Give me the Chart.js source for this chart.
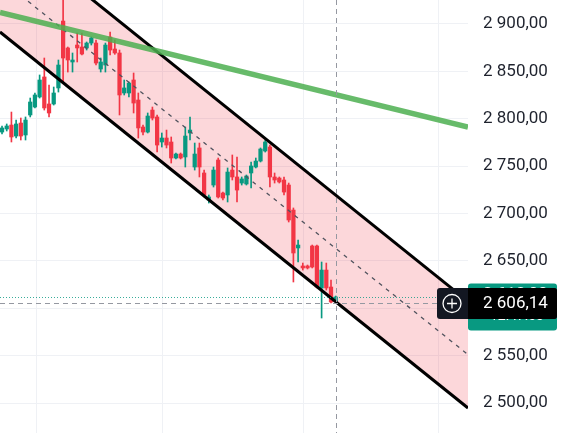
<!DOCTYPE html>
<html>
<head>
<meta charset="utf-8">
<script src="https://cdn.jsdelivr.net/npm/chart.js@4.4.0/dist/chart.umd.min.js"></script>
<style>
  html, body { margin: 0; padding: 0; background: #ffffff; }
  #wrap { width: 562px; height: 433px; }
</style>
</head>
<body>
<div id="wrap"><canvas id="c" width="562" height="433"></canvas></div>
<script>
// ---- data ----
const opens = [2786.0, 2789.2, 2793.4, 2781.8, 2795.5, 2782.9, 2804.0, 2812.4, 2823.0, 2844.1,
  2815.6, 2815.6, 2832.5, 2903.1, 2874.7, 2859.9, 2877.8, 2875.7, 2874.7, 2879.9,
  2879.9, 2852.5, 2856.7, 2886.3, 2873.6, 2869.4, 2827.2, 2827.2, 2840.9, 2819.8,
  2791.3, 2786.0, 2809.2, 2801.9, 2775.5, 2779.7, 2775.5, 2758.6, 2762.8, 2759.7,
  2785.0, 2749.1, 2769.2, 2742.8, 2714.3, 2730.1, 2756.5, 2721.7, 2719.6, 2745.9,
  2738.6, 2732.2, 2731.2, 2742.8, 2749.1, 2755.4, 2766.0, 2770.2, 2738.6, 2737.5,
  2735.4, 2730.1, 2703.7, 2663.7, 2644.7, 2644.7, 2665.8, 2665.8, 2621.5, 2640.4,
  2622.5, 2608.0];
const highs = [2792.4, 2794.5, 2807.1, 2798.7, 2800.8, 2801.9, 2821.9, 2827.2, 2846.2, 2864.1,
  2835.6, 2833.5, 2862.0, 2928.0, 2875.7, 2869.4, 2890.5, 2890.5, 2881.0, 2886.3,
  2883.1, 2864.1, 2879.9, 2891.5, 2883.1, 2872.5, 2840.9, 2838.8, 2848.3, 2827.2,
  2793.4, 2806.1, 2812.4, 2804.0, 2785.0, 2788.1, 2780.8, 2763.9, 2763.9, 2791.3,
  2801.9, 2774.4, 2774.4, 2745.9, 2719.6, 2749.1, 2758.6, 2722.7, 2748.1, 2761.8,
  2759.7, 2738.6, 2740.7, 2754.4, 2758.6, 2769.2, 2777.6, 2772.3, 2742.8, 2738.6,
  2738.6, 2732.2, 2705.9, 2672.1, 2647.8, 2645.7, 2666.8, 2666.8, 2648.9, 2647.8,
  2629.9, 2613.0];
const lows = [2783.9, 2787.1, 2775.5, 2779.7, 2777.6, 2777.6, 2801.9, 2811.4, 2821.9, 2809.2,
  2801.9, 2814.5, 2828.2, 2838.8, 2849.3, 2849.3, 2859.9, 2867.3, 2872.5, 2877.8,
  2856.7, 2849.3, 2849.3, 2867.3, 2868.0, 2804.0, 2825.1, 2823.0, 2806.1, 2779.7,
  2782.9, 2785.0, 2798.7, 2764.9, 2770.2, 2769.2, 2753.3, 2757.6, 2757.6, 2749.1,
  2777.6, 2745.9, 2738.6, 2717.5, 2711.1, 2728.0, 2716.4, 2714.3, 2712.2, 2735.4,
  2712.2, 2730.1, 2730.1, 2727.0, 2748.1, 2754.4, 2764.9, 2728.0, 2732.2, 2732.2,
  2719.6, 2691.1, 2627.8, 2648.9, 2640.4, 2641.5, 2642.6, 2621.5, 2589.8, 2619.3,
  2605.6, 2607.0];
const closes = [2790.3, 2792.4, 2780.8, 2794.5, 2781.8, 2798.7, 2817.7, 2825.1, 2840.9, 2811.4,
  2806.1, 2827.2, 2856.7, 2864.1, 2862.0, 2862.0, 2874.7, 2868.3, 2879.9, 2885.2,
  2858.8, 2859.9, 2877.8, 2872.5, 2869.4, 2825.1, 2832.5, 2837.7, 2816.6, 2790.3,
  2786.0, 2802.9, 2800.8, 2772.3, 2779.7, 2772.3, 2758.6, 2762.8, 2758.6, 2781.8,
  2788.1, 2762.8, 2749.1, 2719.6, 2717.5, 2745.9, 2717.5, 2716.4, 2743.8, 2738.6,
  2724.8, 2736.5, 2739.6, 2750.2, 2755.4, 2768.1, 2775.5, 2738.6, 2735.4, 2733.3,
  2722.7, 2693.2, 2658.4, 2666.8, 2642.6, 2642.6, 2643.6, 2622.5, 2640.4, 2621.5,
  2606.7, 2612.0];

// drawings (bar index -> price)
const lineX = [-0.43, 99.15];
const channelUpper = [3003.9, 2607.4];
const channelLower = [2891.5, 2494.9];
const channelMid = [2947.7, 2551.2];
const trendLine = [2912.1, 2791.3];

const yTickValues = [2500, 2550, 2600, 2650, 2700, 2750, 2800, 2850, 2900];
const xGridValues = [7.2, 34, 64, 92.8];
const crosshairBar = 71;
const crosshairPrice = 2606.14;
const countdownText = '12:47:03';

// ---- helpers ----
function fmt(v) {
  const s = v.toFixed(2).split('.');
  return s[0].replace(/\B(?=(\d{3})+(?!\d))/g, ' ') + ',' + s[1];
}
const UP = '#089981', DOWN = '#F23645';
const candleColors = closes.map((c, i) => c >= opens[i] ? UP : DOWN);
const bodies = closes.map((c, i) => ({ x: i, y: [opens[i], c] }));
const wicks = closes.map((c, i) => ({ x: i, y: [lows[i], highs[i]] }));
const pts = arr => arr.map((v, i) => ({ x: lineX[i], y: v }));

function roundRect(ctx, x, y, w, h, r) {
  ctx.beginPath();
  ctx.moveTo(x + r, y);
  ctx.lineTo(x + w - r, y); ctx.quadraticCurveTo(x + w, y, x + w, y + r);
  ctx.lineTo(x + w, y + h - r); ctx.quadraticCurveTo(x + w, y + h, x + w - r, y + h);
  ctx.lineTo(x + r, y + h); ctx.quadraticCurveTo(x, y + h, x, y + h - r);
  ctx.lineTo(x, y + r); ctx.quadraticCurveTo(x, y, x + r, y);
  ctx.closePath();
}

const overlay = {
  id: 'overlay',
  beforeDraw(chart) {
    const { ctx, chartArea: a, scales: { x } } = chart;
    ctx.save();
    ctx.strokeStyle = '#eff1f5';
    ctx.lineWidth = 1;
    xGridValues.forEach(v => {
      const px = Math.round(x.getPixelForValue(v)) + 0.5;
      ctx.beginPath(); ctx.moveTo(px, a.top); ctx.lineTo(px, a.bottom); ctx.stroke();
    });
    ctx.restore();
  },
  afterDraw(chart) {
    const { ctx, chartArea: a, scales: { x, y } } = chart;
    const W = chart.width;
    ctx.save();
    // last price dotted line
    const lastY = Math.round(y.getPixelForValue(closes[closes.length - 1])) + 0.5;
    ctx.strokeStyle = 'rgba(8,153,129,0.8)';
    ctx.lineWidth = 1;
    ctx.setLineDash([1, 2]);
    ctx.beginPath(); ctx.moveTo(a.left, lastY); ctx.lineTo(a.right, lastY); ctx.stroke();
    // crosshair
    const cx = Math.round(x.getPixelForValue(crosshairBar)) + 0.5;
    const cy = Math.round(y.getPixelForValue(crosshairPrice)) + 0.5;
    ctx.strokeStyle = '#9598a1';
    ctx.setLineDash([5, 4]);
    ctx.beginPath(); ctx.moveTo(cx, a.top); ctx.lineTo(cx, a.bottom); ctx.stroke();
    ctx.beginPath(); ctx.moveTo(a.left, cy); ctx.lineTo(a.right, cy); ctx.stroke();
    ctx.setLineDash([]);

    // last price label (green)
    const gx = a.right, gw = W - 5 - a.right;
    roundRect(ctx, gx, lastY - 14, gw, 47, 3);
    ctx.fillStyle = UP; ctx.fill();
    ctx.fillStyle = '#ffffff';
    ctx.textBaseline = 'middle'; ctx.textAlign = 'left';
    ctx.font = '17px Roboto, "Noto Sans", sans-serif';
    ctx.fillText(fmt(closes[closes.length - 1]), a.right + 15, lastY - 3);
    ctx.font = '14px Roboto, "Noto Sans", sans-serif';
    ctx.fillText(countdownText, a.right + 22, lastY + 19);

    // crosshair label (black)
    const bx = a.right - 31, bh = 31;
    roundRect(ctx, bx, cy - bh / 2, W - 5 - bx, bh, 3);
    ctx.fillStyle = '#131722'; ctx.fill();
    ctx.fillStyle = '#000000';
    roundRect(ctx, a.right, cy - bh / 2, W - 5 - a.right, bh, 3);
    ctx.fill();
    ctx.fillRect(a.right, cy - bh / 2, 6, bh);
    // plus icon
    ctx.strokeStyle = '#ffffff'; ctx.lineWidth = 1.3;
    const px = a.right - 16;
    ctx.beginPath(); ctx.arc(px, cy, 9, 0, Math.PI * 2); ctx.stroke();
    ctx.beginPath();
    ctx.moveTo(px - 5, cy); ctx.lineTo(px + 5, cy);
    ctx.moveTo(px, cy - 5); ctx.lineTo(px, cy + 5);
    ctx.stroke();
    ctx.fillStyle = '#ffffff';
    ctx.font = '17px Roboto, "Noto Sans", sans-serif';
    ctx.fillText(fmt(crosshairPrice), a.right + 15, cy + 0.5);
    ctx.restore();
  }
};

new Chart(document.getElementById('c'), {
  type: 'bar',
  data: {
    datasets: [
      { type: 'line', data: pts(trendLine), borderColor: 'rgba(76,175,80,0.85)', borderWidth: 5.5,
        pointRadius: 0, order: 0, fill: false, borderCapStyle: 'butt' },
      { type: 'line', data: pts(channelMid), borderColor: '#50535e', borderWidth: 1.3,
        borderDash: [4, 5], pointRadius: 0, order: 0, fill: false },
      { type: 'line', data: pts(channelUpper), borderColor: '#000000', borderWidth: 3,
        pointRadius: 0, order: 0, fill: '+1', backgroundColor: 'rgba(242,54,69,0.2)' },
      { type: 'line', data: pts(channelLower), borderColor: '#000000', borderWidth: 3,
        pointRadius: 0, order: 0, fill: false },
      { data: bodies, backgroundColor: candleColors, borderWidth: 0, barThickness: 3.6,
        grouped: false, order: 1, minBarLength: 1 },
      { data: wicks, backgroundColor: candleColors, borderWidth: 0, barThickness: 1,
        grouped: false, order: 2 }
    ]
  },
  options: {
    responsive: false,
    animation: false,
    devicePixelRatio: 1,
    layout: { padding: 0 },
    plugins: {
      legend: { display: false },
      tooltip: { enabled: false },
      filler: { drawTime: 'beforeDatasetsDraw' }
    },
    scales: {
      x: { type: 'linear', min: lineX[0], max: lineX[1], display: false, offset: false },
      y: {
        position: 'right',
        min: 2468.5, max: 2925.3,
        border: { display: false },
        grid: { color: '#eff1f5', drawTicks: false },
        ticks: {
          padding: 15,
          color: '#1e222d',
          font: { family: 'Roboto, "Noto Sans", sans-serif', size: 17 },
          callback: v => fmt(v)
        },
        afterBuildTicks: s => { s.ticks = yTickValues.map(v => ({ value: v })); },
        afterFit: s => { s.width = 94; s.paddingTop = 0; s.paddingBottom = 0; }
      }
    }
  },
  plugins: [overlay]
});
</script>
</body>
</html>
